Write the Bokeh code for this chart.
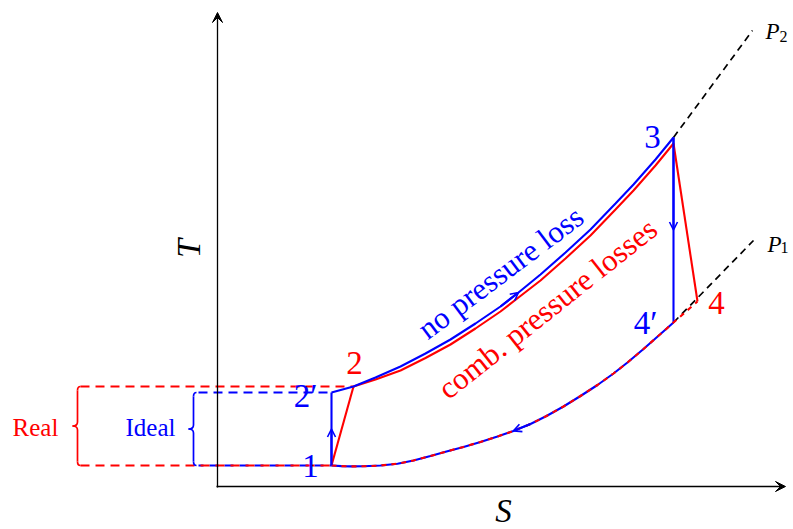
import math
from bokeh.plotting import figure
from bokeh.models import Range1d, Arrow, OpenHead, VeeHead, Label
from bokeh.embed import file_html
from bokeh.resources import INLINE

FONT = "Liberation Serif"

# ---------------- data (S, T in diagram units) ----------------
# upper isobar P2 without pressure loss: 2' -> 2 -> 3
s_p2 = [114, 136, 158, 183, 208, 233, 258, 283, 301, 323, 348, 373, 398, 416, 438, 456]
t_p2 = [94, 100, 109, 120, 133, 147, 163, 180, 194, 212, 234, 257, 283, 302, 327, 349]
# heat addition with combustion pressure losses: 2 -> 3
s_comb = [136, 158, 183, 208, 233, 258, 283, 301, 323, 348, 373, 398, 416, 438, 456]
t_comb = [100, 107, 116, 128.5, 142, 158, 175, 189, 206, 228, 251, 277, 296, 321, 343]
# lower isobar P1: 1 -> 4' -> 4
s_p1 = [114, 124, 133, 146, 163, 180, 196, 213, 229, 246, 263, 280, 296, 313, 329, 346,
        363, 380, 396, 410, 426, 443, 456, 480]
t_p1 = [21, 20.4, 20.1, 20.2, 21, 22.8, 26, 30.5, 35, 39.6, 44.6, 50, 55.6, 62.5, 70.5, 80,
        90.5, 101.5, 113, 124, 137.5, 152.5, 164, 185]
# state points
pt_names = ["1", "2′", "2", "3", "4′", "4"]
pt_s = [114, 114, 136, 456, 456, 480]
pt_t = [21, 94, 100, 349, 164, 185]
t3_real = 343
# isobar extension end points
p2_end = (535, 456)
p1_end = (536, 246)
# axis extents
s_axis_max = 568
t_axis_max = 474

BLUE = "#0000ff"
RED = "#ff0000"

p = figure(width=793, height=529, x_range=Range1d(-217, 576), y_range=Range1d(-43, 486),
           toolbar_location=None, output_backend="svg", min_border=0,
           x_axis_location=None, y_axis_location=None)
p.grid.visible = False
p.outline_line_color = None
p.background_fill_color = "white"
p.border_fill_color = "white"

S1, T1 = pt_s[0], pt_t[0]
S2i, T2i = pt_s[1], pt_t[1]
S2, T2 = pt_s[2], pt_t[2]
S3, T3 = pt_s[3], pt_t[3]
S4i, T4i = pt_s[4], pt_t[4]
S4, T4 = pt_s[5], pt_t[5]

# ---------------- axes ----------------
p.add_layout(Arrow(end=VeeHead(size=10, fill_color="black", line_color="black", line_width=1),
                   x_start=0, y_start=-1, x_end=0, y_end=t_axis_max,
                   line_color="black", line_width=1.3))
p.add_layout(Arrow(end=VeeHead(size=10, fill_color="black", line_color="black", line_width=1),
                   x_start=-1, y_start=0, x_end=s_axis_max, y_end=0,
                   line_color="black", line_width=1.3))

# ---------------- isobar extensions ----------------
p.line([S3, p2_end[0]], [T3, p2_end[1]], line_color="black", line_width=1.7, line_dash="7 5")
p.line([S4i, p1_end[0]], [T4i, p1_end[1]], line_color="black", line_width=1.7, line_dash="7 5")

# ---------------- dashed level lines + braces ----------------
red_x0, blue_x0 = -140, -26
p.line([red_x0 + 3, S2], [T2, T2], line_color=RED, line_width=1.8, line_dash="9 6")
p.line([blue_x0 + 7, S2i], [T2i, T2i], line_color=BLUE, line_width=1.8, line_dash="9 6")
p.line([blue_x0 + 7, S1], [T1, T1], line_color=BLUE, line_width=1.8, line_dash="9 6", line_dash_offset=4)
p.line([red_x0 + 3, S1], [T1, T1], line_color=RED, line_width=1.8, line_dash="9 6")


def brace(x0, ttop, tbot, color, amp=5, r=4, end=3):
    tm = (ttop + tbot) / 2
    kw = dict(line_color=color, line_width=1.7)
    p.quadratic(x0=[x0 + end, x0, x0 - amp, x0],
                y0=[ttop, tm + r, tm, tbot + r],
                x1=[x0, x0 - amp, x0, x0 + end],
                y1=[ttop - r, tm, tm - r, tbot],
                cx=[x0, x0, x0, x0],
                cy=[ttop, tm, tm, tbot], **kw)
    p.segment(x0=[x0, x0], y0=[ttop - r, tm - r], x1=[x0, x0], y1=[tm + r, tbot + r], **kw)


brace(red_x0, T2, T1, RED)
brace(blue_x0 + 2, T2i, T1, BLUE)

# ---------------- cycle ----------------
p.line([S1, S2i], [T1, T2i], line_color=BLUE, line_width=2.1)          # ideal compression 1 -> 2'
p.line([S1, S2], [T1, T2], line_color=RED, line_width=2.1)             # real compression 1 -> 2
p.line(s_comb, t_comb, line_color=RED, line_width=2.1)                 # heat addition (losses)
p.line(s_p2, t_p2, line_color=BLUE, line_width=2.1)                    # heat addition (ideal)
p.line([S3, S4i], [T3, T4i], line_color=BLUE, line_width=2.1)          # ideal expansion 3 -> 4'
p.line([S3, S4], [t3_real, T4], line_color=RED, line_width=2.1)        # real expansion 3 -> 4
p.line(s_p1[:-1], t_p1[:-1], line_color=BLUE, line_width=2.1)          # heat rejection
p.line(s_p1, t_p1, line_color=RED, line_width=2.1, line_dash="5 5")

# direction arrows
head = lambda: OpenHead(size=8, line_color=BLUE, line_width=1.6)
p.add_layout(Arrow(end=head(), x_start=S1, y_start=T1, x_end=S1, y_end=(T1 + T2i) / 2,
                   line_color=BLUE, line_width=2.1))
p.add_layout(Arrow(end=head(), x_start=S3, y_start=T3, x_end=S3, y_end=(T3 + T4i) / 2,
                   line_color=BLUE, line_width=2.1))
p.add_layout(Arrow(end=head(), x_start=s_p2[7], y_start=t_p2[7], x_end=s_p2[8], y_end=t_p2[8],
                   line_color=BLUE, line_width=2.1))
p.add_layout(Arrow(end=head(), x_start=s_p1[13], y_start=t_p1[13], x_end=s_p1[12], y_end=t_p1[12],
                   line_color=BLUE, line_width=2.1))


# ---------------- labels ----------------
def lab(x, y, text, color="black", size=30, style="normal", align="center",
        baseline="middle", angle=0.0):
    p.add_layout(Label(x=x, y=y, text=text, text_color=color, text_font=FONT,
                       text_font_size=f"{size}px", text_font_style=style,
                       text_align=align, text_baseline=baseline, angle=angle))


offsets = [(-21, 0, BLUE), (-26, -3, BLUE), (1, 24, RED), (-21, 1, BLUE),
           (-28, 0, BLUE), (19, -1, RED)]
for name, s, t, (dx, dy, c) in zip(pt_names, pt_s, pt_t, offsets):
    lab(s + dx, t + dy, name, color=c, size=33)

lab(283, 214, "no pressure loss", color=BLUE, size=31, angle=math.radians(37))
lab(330, 178, "comb. pressure losses", color=RED, size=31, angle=math.radians(38.5))

lab(-182, 59, "Real", color=RED, size=25)
lab(-67, 59, "Ideal", color=BLUE, size=25)

lab(286, -24.5, "S", size=33, style="italic")
lab(-29, 238, "T", size=34, style="italic", angle=math.pi / 2)

lab(548, 455, "P", size=23, style="italic", align="left")
lab(562, 450, "2", size=16, align="left")
lab(550, 242, "P", size=23, style="italic", align="left")
lab(563, 239, "1", size=16, align="left")

open("out.html", "w").write(file_html(p, INLINE))
